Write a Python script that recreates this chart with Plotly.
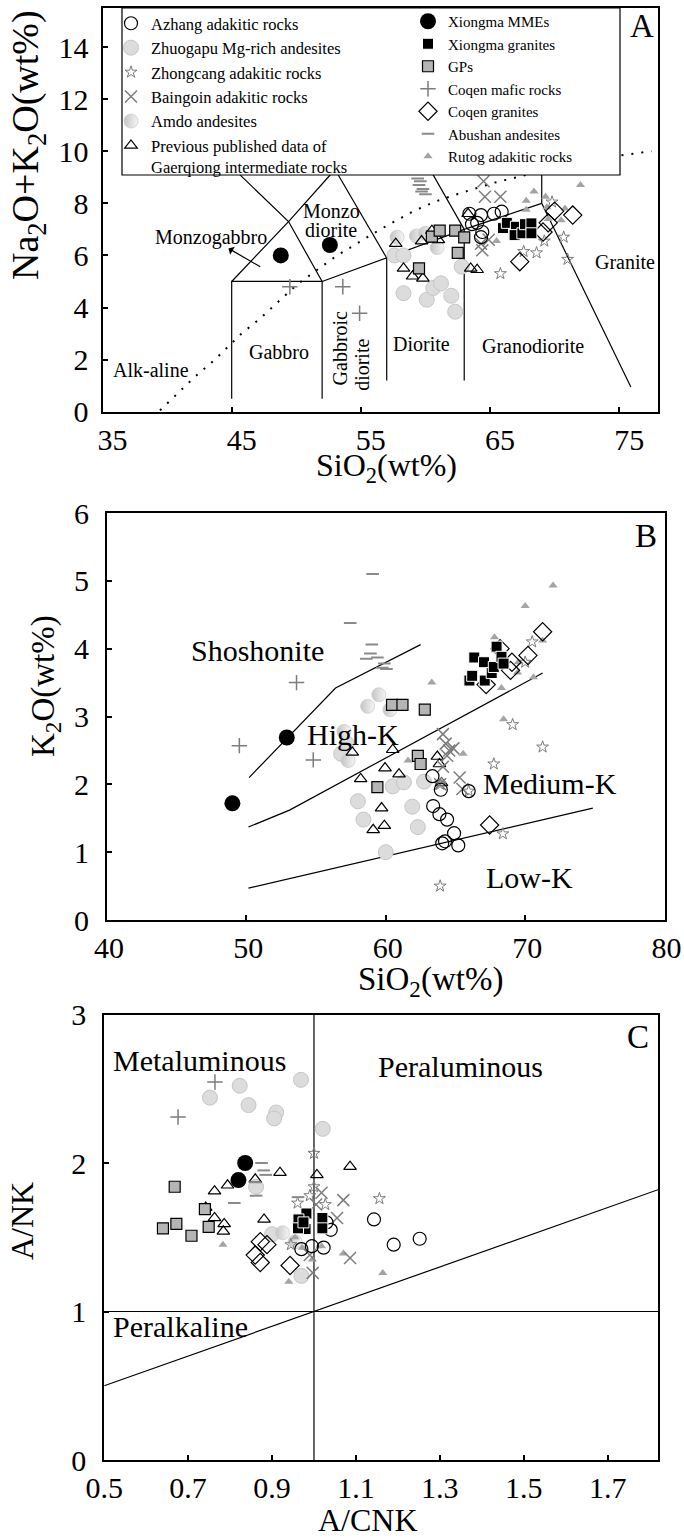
import plotly.graph_objects as go

W, H = 684, 1540
FONT = "Liberation Serif"

# ---------------- Panel A : SiO2 vs Na2O+K2O ----------------
azhang_A_x = [63.4, 64.3, 65.3, 65.9, 63.6, 64.0, 64.4, 64.3]
azhang_A_y = [7.6, 7.55, 7.6, 7.68, 7.2, 7.25, 6.9, 6.7]
zhuogapu_A_x = [57.6, 58.3, 58.3, 60.1, 60.6, 61.2, 62.0, 62.3, 62.8]
zhuogapu_A_y = [6.0, 6.0, 4.55, 4.3, 4.75, 4.93, 4.45, 3.84, 5.57]
zhongcang_A_x = [65.8, 67.6, 68.6, 69.2, 70.7, 71.0, 69.8]
zhongcang_A_y = [5.3, 6.15, 6.1, 6.55, 6.7, 5.85, 8.05]
baingoin_A_x = [64.5, 64.6, 65.8, 64.3, 64.4, 64.9]
baingoin_A_y = [8.85, 8.25, 8.25, 6.45, 6.2, 6.6]
amdo_A_x = [57.8, 59.3, 60.0, 60.9]
amdo_A_y = [6.7, 6.75, 6.85, 6.3]
previous_A_x = [57.7, 58.3, 59.0, 59.8, 59.7, 60.5, 61.0, 63.5, 64.0, 63.3]
previous_A_y = [6.45, 5.5, 5.2, 5.12, 6.55, 6.95, 6.6, 5.5, 5.45, 7.6]
mmes_A_x = [48.8, 52.6]
mmes_A_y = [6.0, 6.4]
xgran_A_x = [66.0, 66.3, 67.0, 66.9, 67.5, 67.7, 68.2, 68.2]
xgran_A_y = [7.05, 7.25, 7.1, 6.78, 6.85, 7.2, 7.23, 6.85]
gps_A_x = [60.5, 61.1, 62.3, 63.0, 62.5, 59.5]
gps_A_y = [6.72, 6.95, 6.95, 6.69, 6.1, 5.5]
coqmaf_A_x = [49.5, 53.6, 54.9]
coqmaf_A_y = [4.8, 4.8, 3.78]
coqgran_A_x = [67.3, 69.1, 70.0, 71.4, 69.5]
coqgran_A_y = [5.76, 6.9, 7.7, 7.55, 7.25]
abushan_A_x = [59.4, 59.6, 59.5, 59.8, 59.7, 60.0]
abushan_A_y = [8.95, 8.85, 8.7, 8.55, 8.45, 8.35]
rutog_A_x = [68.4, 67.8, 67.8, 65.5, 69.3, 69.4, 69.5, 70.5, 72.0, 70.8]
rutog_A_y = [8.45, 8.1, 7.75, 6.55, 8.25, 7.85, 7.4, 7.35, 8.7, 7.8]

# TAS boundaries
tas_gabbro_x = [45, 45, 52, 52]
tas_gabbro_y = [0.5, 5, 5, 0.5]
tas_l1_x = [45, 49.4, 53]
tas_l1_y = [5, 7.3, 9.3]
tas_l2_x = [45, 49.4, 52]
tas_l2_y = [9.4, 7.3, 5]
tas_l3_x = [52, 57, 63, 69]
tas_l3_y = [5, 5.9, 7, 8]
tas_l4_x = [57, 53]
tas_l4_y = [5.9, 9.3]
tas_l5_x = [57, 57]
tas_l5_y = [5.9, 1.2]
tas_l6_x = [63, 63]
tas_l6_y = [7, 1.2]
tas_l7_x = [63, 57.6]
tas_l7_y = [7, 11.7]
tas_l8_x = [69, 69]
tas_l8_y = [8, 12]
tas_l9_x = [69, 75.9]
tas_l9_y = [8, 0.95]
alk_x = [39.45, 40.8, 42.15, 43.65, 45.7, 47.2, 48.6, 50.0, 51.6, 53.1, 54.8, 56.5,
         59.0, 60.7, 62.5, 65.3, 67.1, 70.0, 73.0, 77.5]
alk_y = [0.05, 0.7, 1.34, 1.98, 2.97, 3.58, 4.22, 4.86, 5.44, 5.98, 6.49, 7.0,
         7.68, 8.06, 8.36, 8.79, 9.0, 9.4, 9.7, 10.0]

# ---------------- Panel B : SiO2 vs K2O ----------------
azhang_B_x = [63.4, 63.85, 64.4, 64.9, 65.2, 64.05, 64.25, 63.35, 63.95, 65.95]
azhang_B_y = [1.68, 1.56, 1.48, 1.28, 1.1, 1.13, 1.16, 2.12, 1.92, 1.9]
zhuogapu_B_x = [58.0, 58.4, 60.5, 61.3, 62.75, 61.9, 62.3, 60.0, 56.8, 57.2]
zhuogapu_B_y = [1.75, 1.48, 1.97, 2.03, 2.04, 1.67, 1.37, 1.0, 2.45, 2.6]
zhongcang_B_x = [70.5, 69.1, 71.25, 67.75, 68.4, 63.9, 65.95, 70.0, 63.9]
zhongcang_B_y = [4.1, 2.88, 2.55, 2.3, 1.27, 0.5, 1.9, 3.8, 2.0]
baingoin_B_x = [64.1, 64.3, 64.55, 64.85, 64.4, 64.1, 65.3, 65.5, 63.9]
baingoin_B_y = [2.74, 2.6, 2.5, 2.53, 2.42, 2.26, 2.1, 1.93, 2.0]
amdo_B_x = [58.7, 59.5, 60.3, 57.0, 57.3]
amdo_B_y = [3.15, 3.32, 3.1, 2.78, 2.35]
previous_B_x = [57.6, 60.5, 59.95, 58.2, 60.95, 59.7, 59.9, 59.1, 63.7, 63.85, 64.0]
previous_B_y = [2.47, 2.51, 2.24, 2.08, 2.15, 1.65, 1.39, 1.33, 2.41, 2.3, 2.02]
mmes_B_x = [49.0, 52.9]
mmes_B_y = [1.72, 2.69]
xgran_B_x = [66.0, 66.2, 66.35, 67.05, 67.1, 67.6, 67.75, 67.95, 68.3, 68.45]
xgran_B_y = [3.53, 3.6, 3.87, 3.8, 3.53, 3.64, 3.73, 4.03, 3.88, 3.78]
gps_B_x = [60.45, 61.2, 62.8, 62.3, 62.5, 59.4]
gps_B_y = [3.17, 3.17, 3.1, 2.42, 2.3, 1.96]
coqmaf_B_x = [53.6, 49.5, 54.8]
coqmaf_B_y = [3.5, 2.57, 2.36]
coqgran_B_x = [68.2, 69.05, 68.95, 70.2, 71.25, 67.2, 67.45]
coqgran_B_y = [4.0, 3.8, 3.68, 3.9, 4.25, 3.47, 1.4]
abushan_B_x = [59.06, 57.45, 59.0, 58.9, 58.6, 59.4, 59.9, 59.75, 60.05]
abushan_B_y = [5.1, 4.38, 4.06, 3.93, 3.85, 3.87, 3.78, 3.72, 3.7]
rutog_B_x = [72.0, 70.0, 67.8, 63.3, 68.3, 68.45, 71.25, 69.5, 69.45, 70.6, 61.6, 65.55, 64.0]
rutog_B_y = [4.93, 4.63, 4.17, 3.5, 3.42, 2.96, 4.12, 3.8, 3.65, 3.58, 2.35, 2.45, 2.05]

shosh_x = [50.2, 56.4, 62.5]
shosh_y = [2.1, 3.42, 4.06]
highk_x = [50.15, 53.1, 71.25]
highk_y = [1.37, 1.62, 3.64]
lowk_x = [50.15, 74.85]
lowk_y = [0.47, 1.65]

# ---------------- Panel C : A/CNK vs A/NK ----------------
azhang_C_x = [1.143, 1.19, 1.252, 1.04, 1.023, 0.97, 0.995, 1.03]
azhang_C_y = [1.62, 1.45, 1.49, 1.55, 1.43, 1.42, 1.44, 1.6]
zhuogapu_C_x = [0.823, 0.752, 0.844, 0.91, 0.905, 0.969, 1.021, 0.862, 0.9, 0.97]
zhuogapu_C_y = [2.52, 2.44, 2.39, 2.34, 2.3, 2.56, 2.23, 1.84, 1.52, 1.24]
zhongcang_C_x = [1.0, 1.156, 0.961, 1.0, 1.027, 0.99, 0.945]
zhongcang_C_y = [2.065, 1.76, 1.73, 1.84, 1.72, 1.78, 1.45]
baingoin_C_x = [1.07, 1.055, 1.086, 0.997, 1.018, 1.005, 0.99]
baingoin_C_y = [1.75, 1.63, 1.36, 1.26, 1.8, 1.72, 1.38]
amdo_C_x = [0.925, 0.955]
amdo_C_y = [1.53, 1.47]
previous_C_x = [0.919, 1.007, 1.086, 0.763, 0.794, 0.86, 0.763, 0.786, 0.784, 0.881, 0.742]
previous_C_y = [1.935, 1.92, 1.975, 1.81, 1.85, 1.89, 1.63, 1.59, 1.54, 1.62, 1.7]
mmes_C_x = [0.836, 0.82]
mmes_C_y = [2.0, 1.885]
xgran_C_x = [0.982, 0.963, 0.98, 1.02, 1.02, 0.962, 0.975]
xgran_C_y = [1.66, 1.62, 1.555, 1.63, 1.56, 1.56, 1.6]
gps_C_x = [0.668, 0.64, 0.672, 0.708, 0.749, 0.74]
gps_C_y = [1.84, 1.56, 1.59, 1.51, 1.57, 1.69]
coqmaf_C_x = [0.764, 0.676]
coqmaf_C_y = [2.545, 2.31]
coqgran_C_x = [0.872, 0.888, 0.86, 0.872, 0.943]
coqgran_C_y = [1.47, 1.45, 1.38, 1.33, 1.31]
abushan_C_x = [0.875, 0.88, 0.885, 0.862, 0.81, 0.962, 0.86]
abushan_C_y = [2.0, 1.95, 1.92, 1.78, 1.73, 1.77, 1.87]
rutog_C_x = [0.783, 0.94, 0.972, 1.018, 0.996, 1.07, 1.164, 0.955]
rutog_C_y = [1.45, 1.2, 1.43, 1.44, 1.35, 1.39, 1.26, 1.5]

shand_v_x = [1.0, 1.0]
shand_v_y = [0, 3]
shand_h_x = [0.5, 1.82]
shand_h_y = [1, 1]
shand_d_x = [0.5, 1.82]
shand_d_y = [0.5, 1.82]

# ---------------- styles ----------------
GREY = "#7c7c7c"
PREV = "Previous published data of<br>Gaerqiong intermediate rocks"
STYLE = {
    "Zhuogapu Mg-rich andesites": dict(symbol="circle", size=15, color="#dcdcdc",
                                       line=dict(color="#c6c6c6", width=1)),
    "Amdo andesites": dict(symbol="circle", size=14, color="#c4c4c4",
                           gradient=dict(type="horizontal", color="#f6f6f6"),
                           line=dict(color="#cdcdcd", width=0.8)),
    PREV: dict(symbol="triangle-up-open", size=11, color="black", line=dict(width=1.2)),
    "GPs": dict(symbol="square", size=11, color="#b5b5b5", line=dict(color="black", width=1.2)),
    "Rutog adakitic rocks": dict(symbol="triangle-up", size=8, color="#a4a4a4", line=dict(width=0)),
    "Zhongcang adakitic rocks": dict(symbol="star-open", size=9, color=GREY, line=dict(width=1)),
    "Baingoin adakitic rocks": dict(symbol="x-thin", size=12, color=GREY, line=dict(color=GREY, width=1.5)),
    "Azhang adakitic rocks": dict(symbol="circle-open", size=13, color="black", line=dict(width=1.2)),
    "Coqen granites": dict(symbol="diamond-open", size=14, color="black", line=dict(width=1.2)),
    "Xiongma granites": dict(symbol="square", size=11, color="black", line=dict(color="white", width=1)),
    "Xiongma MMEs": dict(symbol="circle", size=16, color="black", line=dict(width=0)),
    "Coqen mafic rocks": dict(symbol="cross-thin", size=11, color=GREY, line=dict(color=GREY, width=1.5)),
    "Abushan andesites": dict(symbol="line-ew", size=9, color="#8a8a8a", line=dict(color="#8a8a8a", width=2)),
}
LEG = {
    "Azhang adakitic rocks": ("legend", 1),
    "Zhuogapu Mg-rich andesites": ("legend", 2),
    "Zhongcang adakitic rocks": ("legend", 3),
    "Baingoin adakitic rocks": ("legend", 4),
    "Amdo andesites": ("legend", 5),
    PREV: ("legend", 6),
    "Xiongma MMEs": ("legend2", 1),
    "Xiongma granites": ("legend2", 2),
    "GPs": ("legend2", 3),
    "Coqen mafic rocks": ("legend2", 4),
    "Coqen granites": ("legend2", 5),
    "Abushan andesites": ("legend2", 6),
    "Rutog adakitic rocks": ("legend2", 7),
}

SERIES = {
    "A": [
        ("Zhuogapu Mg-rich andesites", zhuogapu_A_x, zhuogapu_A_y),
        ("Amdo andesites", amdo_A_x, amdo_A_y),
        (PREV, previous_A_x, previous_A_y),
        ("GPs", gps_A_x, gps_A_y),
        ("Rutog adakitic rocks", rutog_A_x, rutog_A_y),
        ("Zhongcang adakitic rocks", zhongcang_A_x, zhongcang_A_y),
        ("Baingoin adakitic rocks", baingoin_A_x, baingoin_A_y),
        ("Azhang adakitic rocks", azhang_A_x, azhang_A_y),
        ("Coqen granites", coqgran_A_x, coqgran_A_y),
        ("Xiongma granites", xgran_A_x, xgran_A_y),
        ("Xiongma MMEs", mmes_A_x, mmes_A_y),
        ("Coqen mafic rocks", coqmaf_A_x, coqmaf_A_y),
        ("Abushan andesites", abushan_A_x, abushan_A_y),
    ],
    "B": [
        ("Zhuogapu Mg-rich andesites", zhuogapu_B_x, zhuogapu_B_y),
        ("Amdo andesites", amdo_B_x, amdo_B_y),
        (PREV, previous_B_x, previous_B_y),
        ("GPs", gps_B_x, gps_B_y),
        ("Rutog adakitic rocks", rutog_B_x, rutog_B_y),
        ("Zhongcang adakitic rocks", zhongcang_B_x, zhongcang_B_y),
        ("Baingoin adakitic rocks", baingoin_B_x, baingoin_B_y),
        ("Azhang adakitic rocks", azhang_B_x, azhang_B_y),
        ("Coqen granites", coqgran_B_x, coqgran_B_y),
        ("Xiongma granites", xgran_B_x, xgran_B_y),
        ("Xiongma MMEs", mmes_B_x, mmes_B_y),
        ("Coqen mafic rocks", coqmaf_B_x, coqmaf_B_y),
        ("Abushan andesites", abushan_B_x, abushan_B_y),
    ],
    "C": [
        ("Zhuogapu Mg-rich andesites", zhuogapu_C_x, zhuogapu_C_y),
        ("Amdo andesites", amdo_C_x, amdo_C_y),
        (PREV, previous_C_x, previous_C_y),
        ("GPs", gps_C_x, gps_C_y),
        ("Rutog adakitic rocks", rutog_C_x, rutog_C_y),
        ("Zhongcang adakitic rocks", zhongcang_C_x, zhongcang_C_y),
        ("Baingoin adakitic rocks", baingoin_C_x, baingoin_C_y),
        ("Azhang adakitic rocks", azhang_C_x, azhang_C_y),
        ("Coqen granites", coqgran_C_x, coqgran_C_y),
        ("Xiongma granites", xgran_C_x, xgran_C_y),
        ("Xiongma MMEs", mmes_C_x, mmes_C_y),
        ("Coqen mafic rocks", coqmaf_C_x, coqmaf_C_y),
        ("Abushan andesites", abushan_C_x, abushan_C_y),
    ],
}
AXES = {"A": ("x", "y"), "B": ("x2", "y2"), "C": ("x3", "y3")}

fig = go.Figure()


def add_line(xs, ys, panel, dash=None, width=1.2):
    xa, ya = AXES[panel]
    ln = dict(color="black", width=width)
    if dash:
        ln["dash"] = dash
    fig.add_trace(go.Scatter(x=xs, y=ys, mode="lines", line=ln, xaxis=xa, yaxis=ya,
                             showlegend=False, hoverinfo="skip"))


for lx, ly in [(tas_gabbro_x, tas_gabbro_y), (tas_l1_x, tas_l1_y), (tas_l2_x, tas_l2_y),
               (tas_l3_x, tas_l3_y), (tas_l4_x, tas_l4_y), (tas_l5_x, tas_l5_y),
               (tas_l6_x, tas_l6_y), (tas_l7_x, tas_l7_y), (tas_l8_x, tas_l8_y),
               (tas_l9_x, tas_l9_y)]:
    add_line(lx, ly, "A")
add_line(alk_x, alk_y, "A", dash="2px,8px", width=2)
for lx, ly in [(shosh_x, shosh_y), (highk_x, highk_y), (lowk_x, lowk_y)]:
    add_line(lx, ly, "B")
for lx, ly in [(shand_v_x, shand_v_y), (shand_h_x, shand_h_y), (shand_d_x, shand_d_y)]:
    add_line(lx, ly, "C")

for panel, lst in SERIES.items():
    xa, ya = AXES[panel]
    for name, xs, ys in lst:
        leg, rank = LEG[name]
        fig.add_trace(go.Scatter(
            x=xs, y=ys, mode="markers", name=name, marker=STYLE[name],
            xaxis=xa, yaxis=ya, legendgroup=name, legend=leg, legendrank=rank,
            showlegend=(panel == "A"), hoverinfo="skip"))


def px_x(p):
    return p / W


def px_y(p):
    return 1 - p / H


TICKFONT = dict(family=FONT, size=30, color="black")
common = dict(showgrid=False, zeroline=False, showline=True, linecolor="black", linewidth=2,
              mirror=True, ticks="inside", ticklen=5, tickwidth=1.5, tickcolor="black",
              tickfont=TICKFONT, fixedrange=True, automargin=False)

fig.update_layout(
    width=W, height=H, margin=dict(l=0, r=0, t=0, b=0, autoexpand=False),
    paper_bgcolor="white", plot_bgcolor="white",
    font=dict(family=FONT, color="black"),
    xaxis=dict(domain=[px_x(102.5), px_x(658)], range=[35, 78], anchor="y",
               tickvals=[35, 45, 55, 65, 75], ticklabelstandoff=0, ticklabelshift=10, **common),
    yaxis=dict(domain=[px_y(411.7), px_y(8)], range=[0, 15.5], anchor="x",
               tickvals=[0, 2, 4, 6, 8, 10, 12, 14], ticklabelstandoff=6, **common),
    xaxis2=dict(domain=[px_x(106.9), px_x(664.6)], range=[40, 80], anchor="y2",
                tickvals=[40, 50, 60, 70, 80], ticklabelstandoff=0, ticklabelshift=2, **common),
    yaxis2=dict(domain=[px_y(920), px_y(513)], range=[0, 6], anchor="x2",
                tickvals=[0, 1, 2, 3, 4, 5, 6], ticklabelstandoff=10, **common),
    xaxis3=dict(domain=[px_x(104.2), px_x(658)], range=[0.5, 1.82], anchor="y3",
                tickvals=[0.5, 0.7, 0.9, 1.1, 1.3, 1.5, 1.7],
                ticktext=["0.5", "0.7", "0.9", "1.1", "1.3", "1.5", "1.7"],
                ticklabelstandoff=0, **common),
    yaxis3=dict(domain=[px_y(1460), px_y(1014.5)], range=[0, 3], anchor="x3",
                tickvals=[0, 1, 2, 3], ticklabelstandoff=10, **common),
    legend=dict(x=px_x(111), y=px_y(6), xanchor="left", yanchor="top",
                font=dict(family=FONT, size=16.5, color="black"), bgcolor="rgba(0,0,0,0)",
                borderwidth=0, valign="top", tracegroupgap=0, itemclick=False, itemdoubleclick=False),
    legend2=dict(x=px_x(408), y=px_y(5), xanchor="left", yanchor="top",
                 font=dict(family=FONT, size=15, color="black"), bgcolor="rgba(0,0,0,0)",
                 borderwidth=0, valign="top", tracegroupgap=0, itemclick=False, itemdoubleclick=False),
    showlegend=True,
)

# legend frame
fig.add_shape(type="rect", xref="paper", yref="paper",
              x0=px_x(122), x1=px_x(620), y0=px_y(175), y1=px_y(8),
              line=dict(color="black", width=1.2), fillcolor="white", layer="above")

ann = []


def label(text, x, y, panel, size, angle=0):
    xa, ya = AXES[panel]
    ann.append(dict(text=text, x=x, y=y, xref=xa, yref=ya, showarrow=False,
                    font=dict(family=FONT, size=size, color="black"), textangle=angle,
                    xanchor="center", yanchor="middle"))


def ptitle(text, cx, cy, size, angle=0):
    ann.append(dict(text=text, x=px_x(cx), y=px_y(cy), xref="paper", yref="paper",
                    showarrow=False, font=dict(family=FONT, size=size, color="black"),
                    textangle=angle, xanchor="center", yanchor="middle"))


label("Monzogabbro", 43.4, 6.67, "A", 20)
label("Monzo", 52.74, 7.72, "A", 20)
label("diorite", 52.69, 6.97, "A", 20)
label("Gabbro", 48.66, 2.29, "A", 20)
label("Gabbroic", 53.37, 2.46, "A", 20, -90)
label("diorite", 55.07, 1.79, "A", 20, -90)
label("Diorite", 59.73, 2.6, "A", 20)
label("Granodiorite", 68.36, 2.52, "A", 20)
label("Granite", 75.44, 5.75, "A", 20)
label("Alk-aline", 38.75, 1.6, "A", 20)
label("A", 76.76, 14.81, "A", 33)
ann.append(dict(text="", x=44.75, y=6.27, ax=47.33, ay=5.53, xref="x", yref="y",
                axref="x", ayref="y", showarrow=True, arrowhead=1, arrowsize=1.3,
                arrowwidth=1.2, arrowcolor="black"))
label("Shoshonite", 50.78, 3.98, "B", 30)
label("High-K", 57.65, 2.74, "B", 30)
label("Medium-K", 71.8, 2.01, "B", 30)
label("Low-K", 70.3, 0.63, "B", 30)
label("B", 78.7, 5.66, "B", 33)
label("Metaluminous", 0.727, 2.69, "C", 30)
label("Peraluminous", 1.349, 2.65, "C", 30)
label("Peralkaline", 0.683, 0.9, "C", 30)
label("C", 1.772, 2.85, "C", 33)

ptitle("Na<sub>2</sub>O+K<sub>2</sub>O(wt%)", 28, 145, 38, -90)
ptitle("SiO<sub>2</sub>(wt%)", 386, 467, 32)
ptitle("K<sub>2</sub>O(wt%)", 45, 686, 33, -90)
ptitle("SiO<sub>2</sub>(wt%)", 430, 981, 33)
ptitle("A/NK", 22, 1221, 32, -90)
ptitle("A/CNK", 368, 1520, 32)

fig.update_layout(annotations=ann)
fig.write_html("out.html")
